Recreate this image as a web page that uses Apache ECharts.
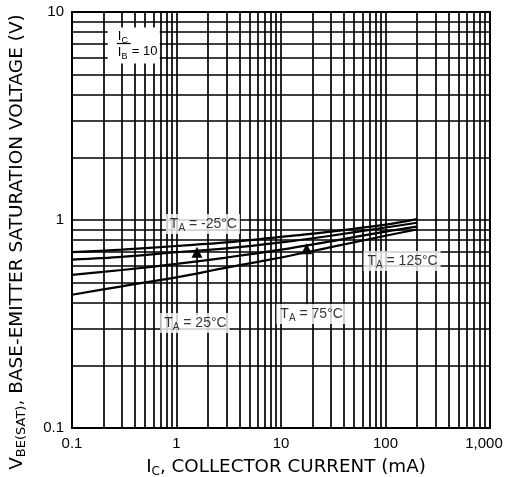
<!DOCTYPE html>
<html><head><meta charset="utf-8">
<script src="https://cdn.jsdelivr.net/npm/echarts@6/dist/echarts.min.js"></script>
<style>html,body{margin:0;padding:0;background:#fff}#c{width:508px;height:477px}</style>
</head><body><div id="c"></div>
<script>
// ---- data ----
const currentMA = [0.1, 0.3, 1, 3, 10, 30, 100, 200];
const vbeTm25 = [0.70, 0.72, 0.75, 0.78, 0.83, 0.88, 0.95, 1.01];
const vbeT25  = [0.645, 0.665, 0.70, 0.73, 0.78, 0.84, 0.92, 0.97];
const vbeT75  = [0.545, 0.575, 0.615, 0.66, 0.72, 0.79, 0.88, 0.93];
const vbeT125 = [0.437, 0.48, 0.53, 0.59, 0.66, 0.74, 0.84, 0.90];
const seriesNames = ['-25°C', '25°C', '75°C', '125°C'];
const xTickValues = [0.1, 1, 10, 100, 1000];
const xTickLabels = ['0.1', '1', '10', '100', '1,000'];
const yTickValues = [0.1, 1, 10];
const yTickLabels = ['0.1', '1', '10'];
const gridMultipliers = [1, 2, 3, 4, 5, 6, 7, 8, 9];
const xDecades = [0.1, 1, 10, 100];
const yDecades = [0.1, 1];

// ---- annotation anchors (data coordinates) ----
const tempLabelAnchors = [[1.79, 0.957], [1.5, 0.32], [19.4, 0.353], [144, 0.635]];
const arrowDefs = [[1.57, 0.346, 0.70], [17.6, 0.39, 0.728]];
const ratioAnchor = [0.39, 6.9];

const SANS = "'Liberation Sans', Arial, sans-serif";
const TITLE = "'DejaVu Sans', sans-serif";

function nearestLabel(v, vals, labels) {
  let best = 0;
  vals.forEach((t, i) => { if (Math.abs(Math.log10(v) - Math.log10(t)) < Math.abs(Math.log10(v) - Math.log10(vals[best]))) best = i; });
  return Math.abs(Math.log10(v) - Math.log10(vals[best])) < 1e-6 ? labels[best] : '';
}

const xGrid = [], yGrid = [];
xDecades.forEach(d => gridMultipliers.forEach(m => xGrid.push(+(d * m).toPrecision(4))));
yDecades.forEach(d => gridMultipliers.forEach(m => yGrid.push(+(d * m).toPrecision(4))));
const gridLines = []
  .concat(xGrid.filter(v => v > 0.1).map(v => ({ xAxis: v })))
  .concat(yGrid.filter(v => v > 0.1).map(v => ({ yAxis: v })));

const curves = [vbeTm25, vbeT25, vbeT75, vbeT125];

const chart = echarts.init(document.getElementById('c'));
const option = {
  animation: false,
  backgroundColor: '#fff',
  grid: { left: 72, right: 18, top: 12, bottom: 49, show: true, borderColor: '#000', borderWidth: 2, backgroundColor: '#fff' },
  xAxis: {
    type: 'log', logBase: 10, min: 0.1, max: 1000,
    axisLine: { show: true, lineStyle: { color: '#000', width: 2 } },
    axisTick: { show: false }, splitLine: { show: false },
    axisLabel: {
      fontSize: 15, color: '#000', fontFamily: SANS, margin: 8,
      formatter: v => { const s = nearestLabel(v, xTickValues, xTickLabels); return s === '1,000' ? '{r|1,000}' : s; },
      rich: { r: { fontSize: 15, color: '#000', fontFamily: SANS, padding: [0, 12, 0, 0] } }
    }
  },
  yAxis: {
    type: 'log', logBase: 10, min: 0.1, max: 10,
    axisLine: { show: true, lineStyle: { color: '#000', width: 2 } },
    axisTick: { show: false }, splitLine: { show: false },
    axisLabel: { fontSize: 15, color: '#000', fontFamily: SANS, margin: 8,
      formatter: v => nearestLabel(v, yTickValues, yTickLabels) }
  },
  series: [
    {
      type: 'line', data: [], z: 1, silent: true,
      markLine: {
        silent: true, animation: false, symbol: ['none', 'none'],
        label: { show: false },
        lineStyle: { color: '#000', type: 'solid', width: 1.7 },
        emphasis: { disabled: true },
        data: gridLines
      }
    },
    ...curves.map((vals, k) => ({
      name: seriesNames[k], type: 'line', z: 3,
      data: currentMA.map((x, i) => [x, vals[i]]),
      showSymbol: false, smooth: 0.3,
      lineStyle: { color: '#000', width: 2.2 }
    })),
    {
      type: 'line', data: [], z: 4, silent: true,
      markLine: {
        silent: true, animation: false, symbol: ['none', 'triangle'], symbolSize: 11,
        label: { show: false },
        lineStyle: { color: '#000', type: 'solid', width: 1.6 },
        itemStyle: { color: '#000' },
        emphasis: { disabled: true },
        data: arrowDefs.map(a => [{ coord: [a[0], a[1]] }, { coord: [a[0], a[2]] }])
      }
    },
    {
      type: 'scatter', z: 6, silent: true,
      symbolSize: 1, itemStyle: { color: 'rgba(0,0,0,0)' },
      data: tempLabelAnchors.map(p => p.slice()),
      label: {
        show: true, position: 'inside', backgroundColor: '#fff', padding: [1, 3, 1, 4],
        formatter: p => '{t|T}{s|A}{t| = ' + seriesNames[p.dataIndex] + '}',
        rich: {
          t: { fontSize: 14, lineHeight: 18, fontFamily: SANS, color: '#000' },
          s: { fontSize: 10, lineHeight: 11, verticalAlign: 'bottom', fontFamily: SANS, color: '#000' }
        }
      }
    }
  ]
};
chart.setOption(option);

const rp = chart.convertToPixel({ xAxisIndex: 0, yAxisIndex: 0 }, ratioAnchor);
const subRich = (big, small) => ({
  i: { fontSize: big, lineHeight: big + 3, fontFamily: SANS, fill: '#000', color: '#000' },
  s: { fontSize: small, lineHeight: small + 1, verticalAlign: 'bottom', fontFamily: SANS, fill: '#000', color: '#000' }
});
const titleRich = (fs) => ({
  v: { fontSize: fs, lineHeight: fs + 4, fontFamily: TITLE, fill: '#000', color: '#000' },
  s: { fontSize: Math.round(fs * 0.68), lineHeight: Math.round(fs * 0.68) + 1, verticalAlign: 'bottom', fontFamily: TITLE, fill: '#000', color: '#000' }
});
const Z = 100;
chart.setOption({
  graphic: [
    {
      type: 'group', x: rp[0], y: rp[1], z: Z, silent: true,
      children: [
        { type: 'rect', z: Z, shape: { x: -26, y: -18, width: 52, height: 36 }, style: { fill: '#fff' } },
        { type: 'text', z: Z + 1, x: -16, y: -9, style: { text: '{i|I}{s|C}', rich: subRich(13, 9), align: 'left', verticalAlign: 'middle' } },
        { type: 'line', z: Z + 1, shape: { x1: -17, y1: -2, x2: -3, y2: -2 }, style: { stroke: '#000', lineWidth: 1.2 } },
        { type: 'text', z: Z + 1, x: -16, y: 7, style: { text: '{i|I}{s|B}', rich: subRich(13, 9), align: 'left', verticalAlign: 'middle' } },
        { type: 'text', z: Z + 1, x: -2, y: 6, style: { text: '= 10', font: '13px ' + SANS, fill: '#000', align: 'left', verticalAlign: 'middle' } }
      ]
    },
    {
      type: 'text', x: 17, y: 242, rotation: Math.PI / 2, silent: true,
      style: { text: '{v|V}{s|BE(SAT)}{v|, BASE-EMITTER SATURATION VOLTAGE (V)}', rich: titleRich(18.5), align: 'center', verticalAlign: 'middle' }
    },
    {
      type: 'text', x: 286, y: 467, silent: true,
      style: { text: '{v|I}{s|C}{v|, COLLECTOR CURRENT (mA)}', rich: titleRich(18.3), align: 'center', verticalAlign: 'middle' }
    }
  ]
});
</script>
</body></html>
